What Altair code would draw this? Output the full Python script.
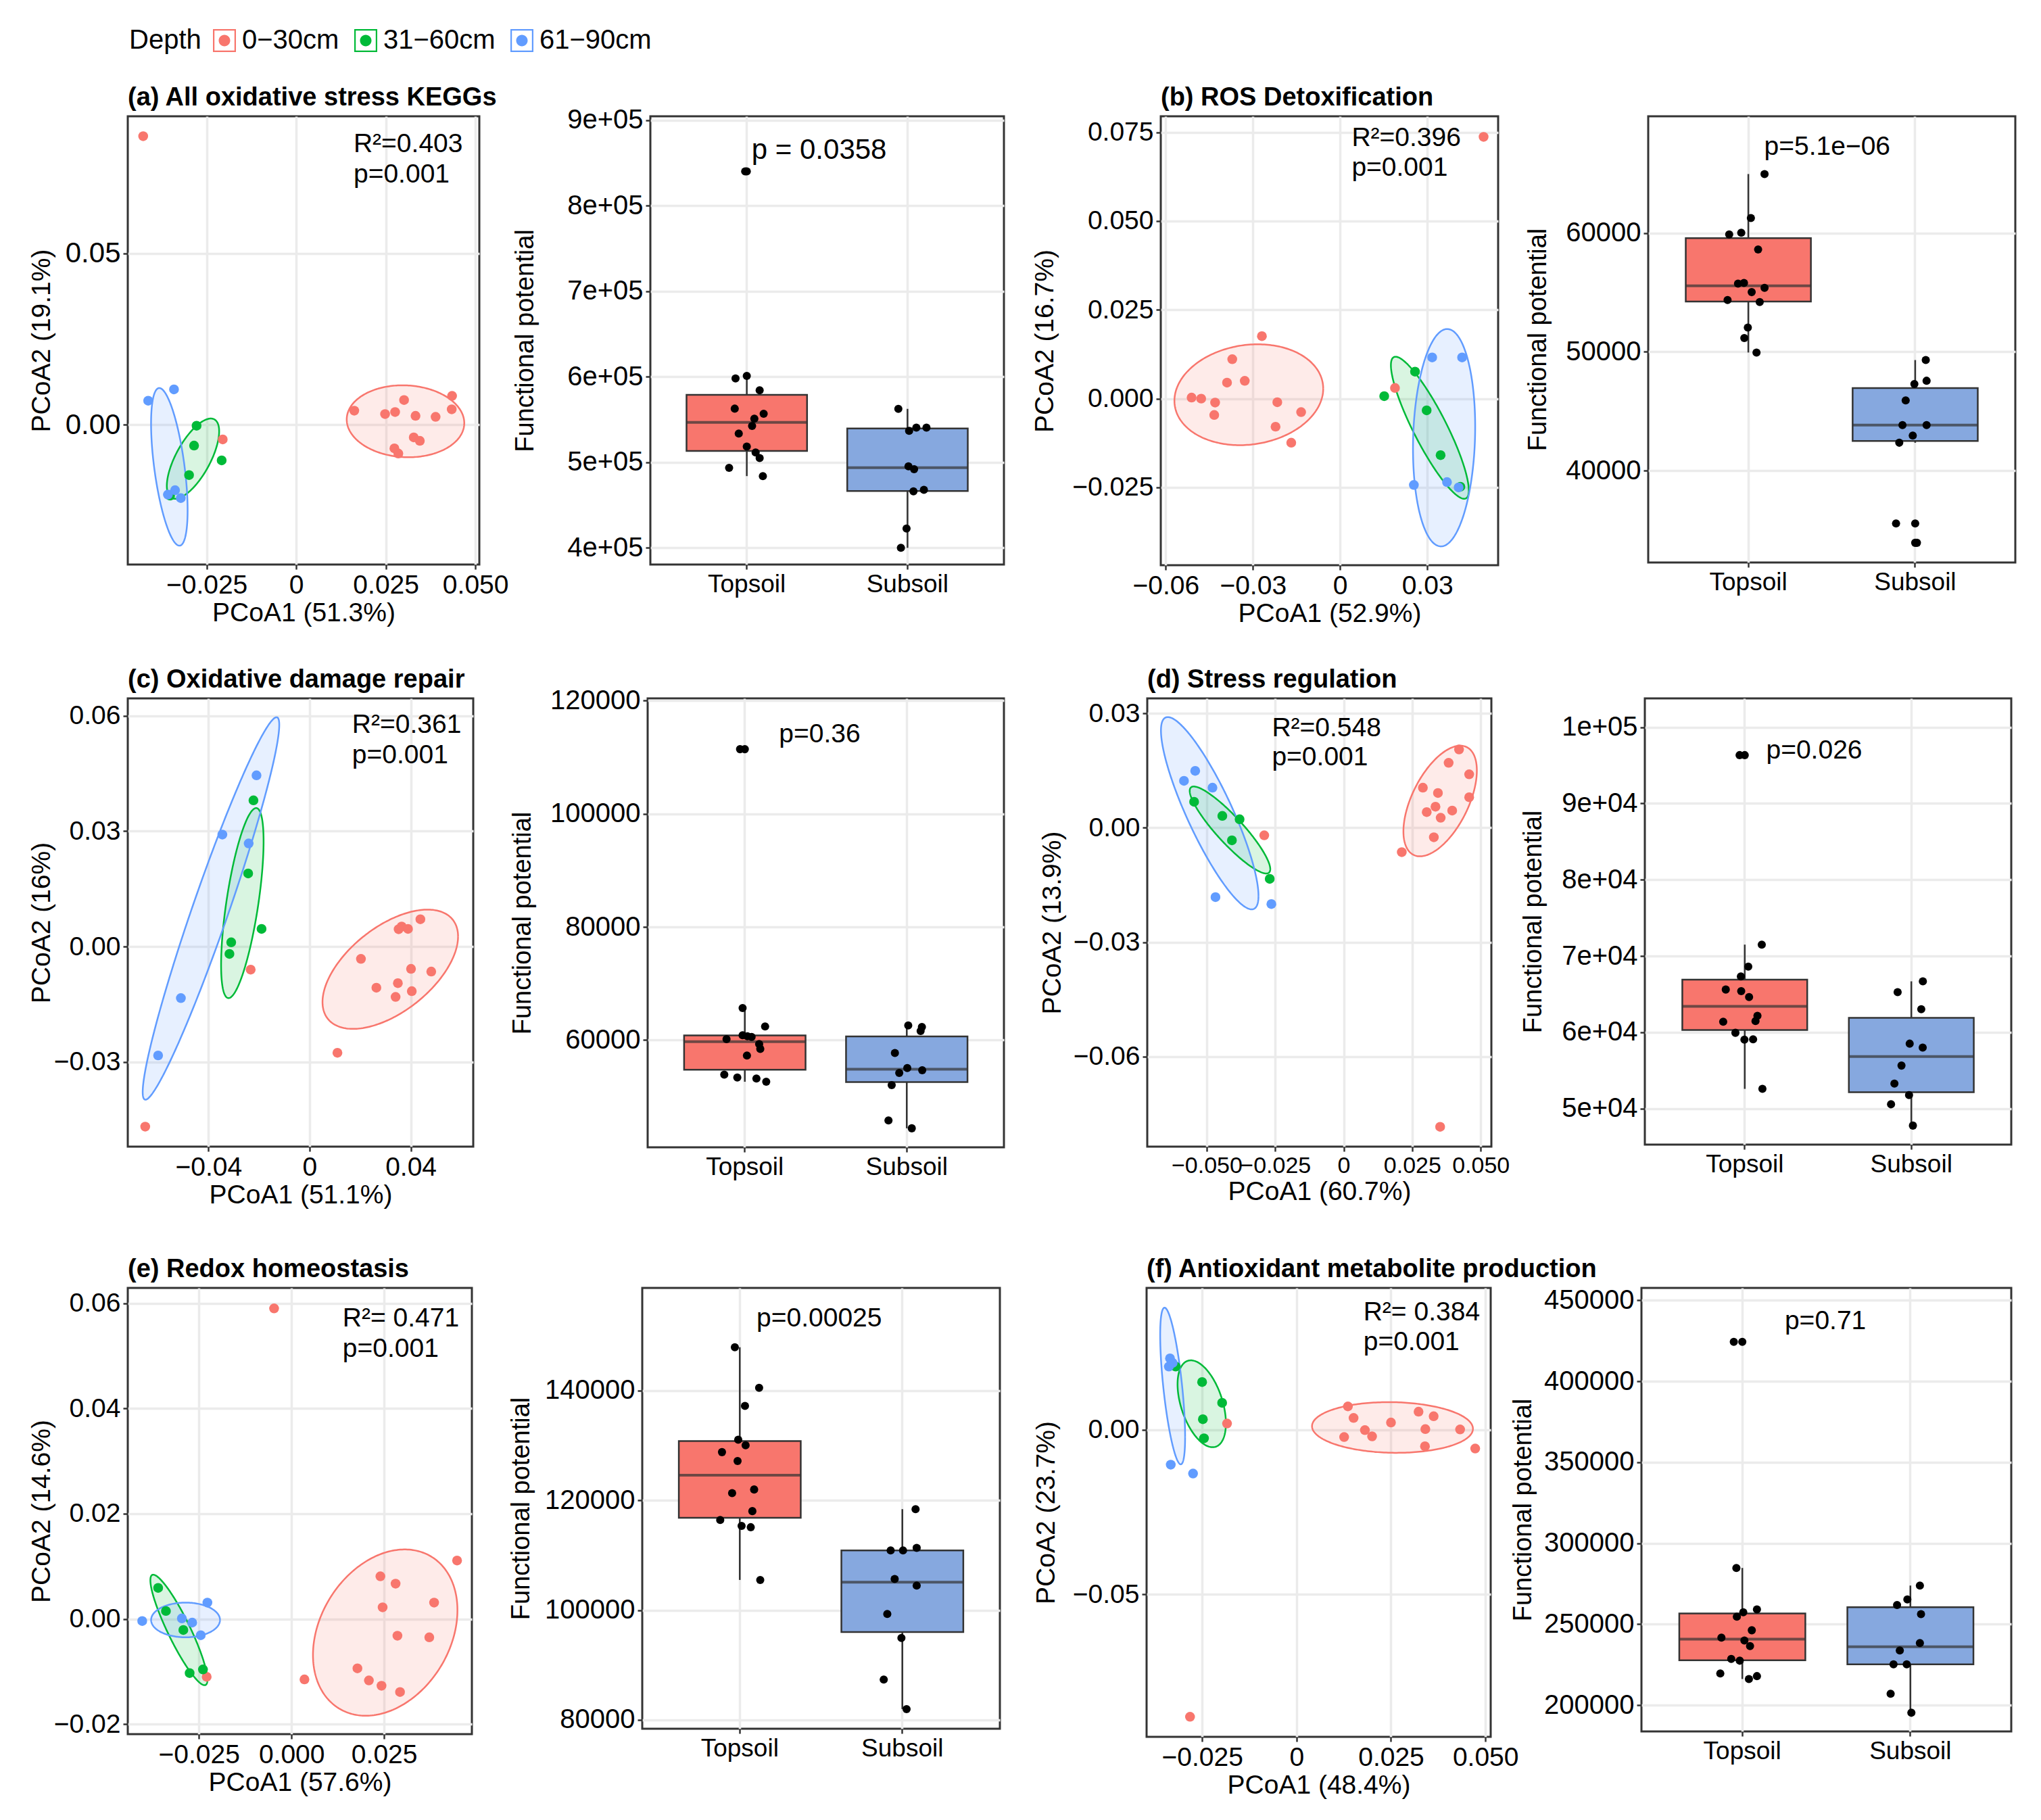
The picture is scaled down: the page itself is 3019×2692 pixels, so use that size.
import altair as alt
import numpy as np
import pandas as pd

DEPTHS = ["0−30cm", "31−60cm", "61−90cm"]
GROUPS = ["Topsoil", "Subsoil"]
DEPTH_COLORS = ["#F8766D", "#00BA38", "#619CFF"]
BOX_COLORS = ["#F8766D", "#86A8DF"]

# ---------------- (a) All oxidative stress KEGGs ----------------
a_title = "(a) All oxidative stress KEGGs"
a_axes = ["PCoA1 (51.3%)", "PCoA2 (19.1%)"]
a_stats = ["R²=0.403", "p=0.001"]
a_stat_pos = [0.0160, 0.0795, 0.0707]
a_red_x = [-0.0427, -0.0205, 0.0162, 0.0248, 0.0276, 0.0301, 0.0333, 0.0389, 0.0435, 0.0434, 0.0328, 0.0345, 0.0274, 0.0285]
a_red_y = [0.0842, -0.0043, 0.0041, 0.0031, 0.0037, 0.0072, 0.0026, 0.0023, 0.0084, 0.0045, -0.0037, -0.0047, -0.0069, -0.0084]
a_green_x = [-0.0278, -0.0285, -0.0208, -0.0299, -0.0352]
a_green_y = [-0.0003, -0.0061, -0.0104, -0.0147, -0.0207]
a_blue_x = [-0.0413, -0.0341, -0.0358, -0.0338, -0.0322]
a_blue_y = [0.0070, 0.0103, -0.0204, -0.0191, -0.0214]
a_ell_red = [0.0305, 0.0010, 0.0164, 0.0105, -0.05]
a_ell_green = [-0.0288, -0.0099, 0.0073, 0.0117, 0.68]
a_ell_blue = [-0.0354, -0.0123, 0.0051, 0.0230, -0.55]
a_xdom, a_ydom = [-0.0470, 0.0511], [-0.0408, 0.0900]
a_xticks, a_yticks = [-0.025, 0, 0.025, 0.05], [0, 0.05]
a_top = [840200, 598100, 601100, 584300, 562800, 556700, 551000, 542500, 533700, 518400, 511500, 505000, 493500, 483900]
a_top_jit = [-0.01, -0.07, 0.0, 0.08, -0.075, 0.105, 0.047, 0.033, -0.05, 0.0, 0.055, 0.08, -0.11, 0.1]
a_sub = [562500, 536800, 540600, 540600, 495400, 492000, 466000, 467800, 422600, 400000]
a_sub_jit = [-0.057, 0.01, 0.055, 0.118, 0.006, 0.041, 0.037, 0.102, -0.006, -0.041]
a_box_p, a_box_p_pos = "p = 0.0358", [0.45, 854800]
a_box_ydom = [380500, 904600]
a_box_yticks = [400000, 500000, 600000, 700000, 800000, 900000]

# ---------------- (b) ROS Detoxification ----------------
b_title = "(b) ROS Detoxification"
b_axes = ["PCoA1 (52.9%)", "PCoA2 (16.7%)"]
b_stats = ["R²=0.396", "p=0.001"]
b_stat_pos = [0.0040, 0.0712, 0.0628]
b_red_x = [0.0494, -0.0269, -0.0371, -0.0389, -0.0328, -0.0511, -0.0478, -0.0430, -0.0433, -0.0216, -0.0134, -0.0222, -0.0168, 0.0189]
b_red_y = [0.0737, 0.0176, 0.0111, 0.0045, 0.0050, 0.0003, 0.0000, -0.0011, -0.0046, -0.0010, -0.0038, -0.0079, -0.0124, 0.0030]
b_green_x = [0.0152, 0.0258, 0.0298, 0.0346, 0.0414]
b_green_y = [0.0007, 0.0076, -0.0033, -0.0159, -0.0248]
b_blue_x = [0.0317, 0.0420, 0.0254, 0.0368, 0.0408]
b_blue_y = [0.0116, 0.0116, -0.0243, -0.0235, -0.0250]
b_ell_red = [-0.0314, 0.0011, 0.0256, 0.0142, 0.12]
b_ell_green = [0.0309, -0.0082, 0.0134, 0.0200, -0.88]
b_ell_blue = [0.0358, -0.0110, 0.0107, 0.0306, 0.10]
b_xdom, b_ydom = [-0.0617, 0.0544], [-0.0469, 0.0795]
b_xticks, b_yticks = [-0.06, -0.03, 0, 0.03], [-0.025, 0, 0.025, 0.05, 0.075]
b_top = [64972, 61271, 59890, 60028, 58619, 55746, 55801, 55387, 55028, 54365, 54199, 52044, 51160, 49945]
b_top_jit = [0.12, 0.035, -0.10, -0.025, 0.08, -0.045, -0.008, 0.12, 0.04, -0.11, 0.09, 0.016, -0.006, 0.07]
b_sub = [49309, 47569, 47293, 45912, 43840, 43840, 42956, 42348, 35552, 33923]
b_sub_jit = [0.085, 0.09, 0.014, -0.04, -0.06, 0.09, 0.004, -0.08, -0.10, 0.03]
b_box_p, b_box_p_pos = "p=5.1e−06", [0.51, 66575]
b_box_ydom = [32265, 69834]
b_box_yticks = [40000, 50000, 60000]

# ---------------- (c) Oxidative damage repair ----------------
c_title = "(c) Oxidative damage repair"
c_axes = ["PCoA1 (51.1%)", "PCoA2 (16%)"]
c_stats = ["R²=0.361", "p=0.001"]
c_stat_pos = [0.0168, 0.0556, 0.0477]
c_red_x = [-0.0650, -0.0233, 0.0110, 0.0203, 0.0264, 0.0340, 0.0349, 0.0352, 0.0364, 0.0389, 0.0438, 0.0401, 0.0481, 0.0404]
c_red_y = [-0.0468, -0.0060, -0.0276, -0.0032, -0.0107, -0.0131, -0.0095, 0.0045, 0.0052, 0.0046, 0.0071, -0.0058, -0.0065, -0.0116]
c_green_x = [-0.0222, -0.0243, -0.0190, -0.0310, -0.0317]
c_green_y = [0.0380, 0.0190, 0.0046, 0.0011, -0.0019]
c_blue_x = [-0.0210, -0.0345, -0.0241, -0.0509, -0.0599]
c_blue_y = [0.0445, 0.0291, 0.0268, -0.0134, -0.0283]
c_ell_red = [0.0319, -0.0059, 0.0268, 0.0155, 0.55]
c_ell_green = [-0.0266, 0.0113, 0.0084, 0.0247, 0.65]
c_ell_blue = [-0.0390, 0.0099, 0.0270, 0.0497, 0.96]
c_xdom, c_ydom = [-0.0719, 0.0647], [-0.0520, 0.0645]
c_xticks, c_yticks = [-0.04, 0, 0.04], [-0.03, 0, 0.03, 0.06]
c_top = [111428, 65670, 62427, 60168, 60863, 60573, 59299, 58431, 57273, 53913, 53392, 53218, 52639, 60690]
c_top_jit = [-0.026, -0.01, 0.13, -0.11, -0.01, 0.046, 0.093, 0.10, 0.017, -0.124, -0.043, 0.076, 0.137, 0.02]
c_sub = [62601, 62311, 61616, 57736, 55072, 54203, 54666, 52060, 45805, 44415]
c_sub_jit = [0.013, 0.098, 0.09, -0.07, 0.007, -0.043, 0.10, -0.09, -0.11, 0.035]
c_box_p, c_box_p_pos = "p=0.36", [0.47, 112586]
c_box_ydom = [41054, 120405]
c_box_yticks = [60000, 80000, 100000, 120000]

# ---------------- (d) Stress regulation ----------------
d_title = "(d) Stress regulation"
d_axes = ["PCoA1 (60.7%)", "PCoA2 (13.9%)"]
d_stats = ["R²=0.548", "p=0.001"]
d_stat_pos = [-0.0262, 0.0240, 0.0163]
d_red_x = [0.0352, -0.0290, 0.0212, 0.0421, 0.0383, 0.0458, 0.0289, 0.0344, 0.0458, 0.0335, 0.0303, 0.0396, 0.0354, 0.0329]
d_red_y = [-0.0784, -0.0020, -0.0064, 0.0205, 0.0170, 0.0140, 0.0105, 0.0091, 0.0080, 0.0055, 0.0041, 0.0045, 0.0026, -0.0025]
d_green_x = [-0.0546, -0.0443, -0.0380, -0.0408, -0.0270]
d_green_y = [0.0068, 0.0031, 0.0022, -0.0033, -0.0134]
d_blue_x = [-0.0583, -0.0542, -0.0479, -0.0468, -0.0264]
d_blue_y = [0.0123, 0.0149, 0.0105, -0.0182, -0.0200]
d_ell_red = [0.0352, 0.0070, 0.0134, 0.0145, 0.55]
d_ell_green = [-0.0415, -0.0006, 0.0147, 0.0114, -0.90]
d_ell_blue = [-0.0489, 0.0038, 0.0178, 0.0252, -0.86]
d_xdom, d_ydom = [-0.0717, 0.0539], [-0.0836, 0.0339]
d_xticks, d_yticks = [-0.05, -0.025, 0, 0.025, 0.05], [-0.06, -0.03, 0, 0.03]
d_top = [96346, 71497, 68617, 67327, 65608, 65393, 64619, 62169, 61395, 61481, 59934, 59031, 59074, 52582]
d_top_jit = [-0.014, 0.124, 0.04, -0.006, -0.10, -0.004, 0.045, 0.097, -0.116, 0.085, -0.04, 0.016, 0.07, 0.128]
d_sub = [66682, 65264, 63029, 58515, 58000, 55635, 53270, 51765, 50561, 47767]
d_sub_jit = [0.09, -0.067, 0.08, 0.008, 0.089, -0.043, -0.087, 0.004, -0.108, 0.028]
d_box_p, d_box_p_pos = "p=0.026", [0.45, 95916]
d_box_ydom = [45274, 103783]
d_box_yticks = [50000, 60000, 70000, 80000, 90000, 100000]

# ---------------- (e) Redox homeostasis ----------------
e_title = "(e) Redox homeostasis"
e_axes = ["PCoA1 (57.6%)", "PCoA2 (14.6%)"]
e_stats = ["R²= 0.471", "p=0.001"]
e_stat_pos = [0.0138, 0.0556, 0.0498]
e_red_x = [-0.0047, -0.0229, 0.0035, 0.0447, 0.0240, 0.0281, 0.0385, 0.0246, 0.0286, 0.0372, 0.0178, 0.0209, 0.0243, 0.0293]
e_red_y = [0.0590, -0.0110, -0.0115, 0.0111, 0.0081, 0.0067, 0.0031, 0.0022, -0.0032, -0.0035, -0.0094, -0.0117, -0.0127, -0.0139]
e_green_x = [-0.0360, -0.0339, -0.0292, -0.0275, -0.0239]
e_green_y = [0.0059, 0.0015, -0.0021, -0.0103, -0.0096]
e_blue_x = [-0.0403, -0.0296, -0.0268, -0.0245, -0.0227]
e_blue_y = [-0.0004, 0.0001, -0.0007, -0.0031, 0.0031]
e_ell_red = [0.0253, -0.0026, 0.0195, 0.0158, 0.27]
e_ell_green = [-0.0304, -0.0021, 0.0077, 0.0105, -0.90]
e_ell_blue = [-0.0286, -0.0002, 0.0093, 0.0033, 0.0]
e_xdom, e_ydom = [-0.0442, 0.0487], [-0.0219, 0.0629]
e_xticks, e_yticks = [-0.025, 0, 0.025], [-0.02, 0, 0.02, 0.04, 0.06]
e_top = [147881, 140478, 137194, 131045, 130030, 128776, 127164, 121970, 121313, 118030, 116418, 115343, 115104, 105493]
e_top_jit = [-0.025, 0.126, 0.038, -0.004, 0.042, -0.105, -0.008, 0.095, -0.042, 0.084, -0.116, 0.017, 0.074, 0.133]
e_sub = [118389, 110866, 110866, 111343, 105672, 104478, 99284, 94925, 87343, 81970]
e_sub_jit = [0.088, -0.067, 0.01, 0.095, -0.042, 0.095, -0.088, 0.0, -0.11, 0.032]
e_box_p, e_box_p_pos = "p=0.00025", [0.50, 151642]
e_box_ydom = [78390, 158686]
e_box_yticks = [80000, 100000, 120000, 140000]

# ---------------- (f) Antioxidant metabolite production ----------------
f_title = "(f) Antioxidant metabolite production"
f_axes = ["PCoA1 (48.4%)", "PCoA2 (23.7%)"]
f_stats = ["R²= 0.384", "p=0.001"]
f_stat_pos = [0.0177, 0.0333, 0.0242]
f_red_x = [-0.0282, 0.0473, -0.0184, 0.0136, 0.0151, 0.0126, 0.0181, 0.0200, 0.0250, 0.0323, 0.0363, 0.0341, 0.0433, 0.0340]
f_red_y = [-0.0872, -0.0057, 0.0019, 0.0071, 0.0036, -0.0022, -0.0001, -0.0020, 0.0022, 0.0055, 0.0041, 0.0002, 0.0001, -0.0050]
f_green_x = [-0.0320, -0.0250, -0.0197, -0.0248, -0.0245]
f_green_y = [0.0192, 0.0145, 0.0082, 0.0032, -0.0026]
f_blue_x = [-0.0335, -0.0328, -0.0338, -0.0333, -0.0274]
f_blue_y = [0.0217, 0.0203, 0.0192, -0.0106, -0.0133]
f_ell_red = [0.0254, 0.0007, 0.0213, 0.0077, -0.05]
f_ell_green = [-0.0251, 0.0079, 0.0064, 0.0132, -0.45]
f_ell_blue = [-0.0328, 0.0133, 0.0033, 0.0238, -0.65]
f_xdom, f_ydom = [-0.0397, 0.0514], [-0.0933, 0.0431]
f_xticks, f_yticks = [-0.025, 0, 0.025, 0.05], [-0.05, 0]
f_top = [424417, 284728, 259145, 257334, 254617, 246240, 241712, 239901, 236505, 228581, 227449, 219525, 217940, 216129]
f_top_jit = [-0.03, -0.014, 0.114, 0.029, -0.011, 0.082, -0.107, 0.036, 0.071, -0.046, 0.007, -0.114, 0.114, 0.064]
f_sub = [273861, 265258, 261862, 256202, 238315, 233787, 225183, 225183, 207071, 195298]
f_sub_jit = [0.082, 0.004, -0.06, 0.089, 0.082, -0.043, -0.082, 0.0, -0.10, 0.029]
f_box_p, f_box_p_pos = "p=0.71", [0.54, 432341]
f_box_ydom = [183754, 457698]
f_box_yticks = [200000, 250000, 300000, 350000, 400000, 450000]

# ======================= building =======================
FONT = "Liberation Sans"
DEPTH_SCALE = alt.Scale(domain=DEPTHS, range=DEPTH_COLORS)

# legend key: square outline (outer square minus inner square) plus a central dot
KEY_PATH = ("M-1,-1H1V1H-1Z"
            "M-0.87,-0.87V0.87H0.87V-0.87Z"
            "M0.5,0A0.5,0.5 0 1,1 -0.5,0A0.5,0.5 0 1,1 0.5,0Z")

LEGEND = alt.Legend(
    values=DEPTHS, title="Depth", orient="none", legendX=2, legendY=18,
    direction="horizontal", titleOrient="left", titleFontSize=40, titleFontWeight="normal",
    titleColor="black", titlePadding=14, labelFontSize=40, labelColor="black",
    labelOffset=6, labelLimit=400, columnPadding=19, symbolType=KEY_PATH,
    symbolSize=1156, symbolStrokeWidth=0, symbolOpacity=1,
)


def lab_expr(fmt, zero):
    return f"abs(datum.value) < 1e-12 ? '{zero}' : format(datum.value, '{fmt}')"


SCI_EXPR = "replace(format(datum.value, '.0e'), 'e+', 'e+0')"
INT_EXPR = "format(datum.value, 'd')"


def ellipse_frames(ells):
    area_rows, line_rows = [], []
    for depth, (cx, cy, sx, sy, rho) in zip(DEPTHS, ells):
        d = float(np.arccos(np.clip(rho, -1, 1)))
        for t in np.linspace(0, np.pi, 140):
            area_rows.append({"depth": depth, "x": cx + sx * np.cos(t),
                              "y": cy + sy * np.cos(t - d), "y2": cy + sy * np.cos(t + d)})
        for i, t in enumerate(np.linspace(0, 2 * np.pi, 241)):
            line_rows.append({"depth": depth, "t": i, "x": cx + sx * np.cos(t),
                              "y": cy + sy * np.cos(t - d)})
    return pd.DataFrame(area_rows), pd.DataFrame(line_rows)


def scatter_panel(title, axes, stats, stat_pos, xs, ys, ells, xdom, ydom, xticks, yticks,
                  xfmt, xzero, yfmt, yzero, ygap, w, h, ylab=39, xlab=39):
    pts = pd.DataFrame({
        "depth": sum([[dd] * len(x) for dd, x in zip(DEPTHS, xs)], []),
        "x": sum(xs, []), "y": sum(ys, []),
    })
    area_df, line_df = ellipse_frames(ells)
    ann = pd.DataFrame({"x": [stat_pos[0]] * 2, "y": stat_pos[1:], "label": stats})
    X = alt.X("x:Q", scale=alt.Scale(domain=xdom, nice=False, zero=False),
              axis=alt.Axis(title=axes[0], values=xticks, labelExpr=lab_expr(xfmt, xzero),
                            titlePadding=2, labelFontSize=xlab, labelFlush=False, labelOverlap=False))
    Y = alt.Y("y:Q", scale=alt.Scale(domain=ydom, nice=False, zero=False),
              axis=alt.Axis(title=axes[1], values=yticks, labelExpr=lab_expr(yfmt, yzero),
                            minExtent=ygap, maxExtent=ygap, titlePadding=0, labelFontSize=ylab,
                            labelFlush=False, labelOverlap=False))
    layers = []
    for dd, col in zip(DEPTHS, DEPTH_COLORS):
        layers.append(alt.Chart(area_df[area_df["depth"] == dd]).mark_area(
            opacity=0.15, color=col, clip=True).encode(x=X, y=Y, y2=alt.Y2("y2:Q")))
    for dd, col in zip(DEPTHS, DEPTH_COLORS):
        layers.append(alt.Chart(line_df[line_df["depth"] == dd]).mark_line(
            strokeWidth=2.5, color=col, clip=True).encode(x=X, y=Y, order=alt.Order("t:Q")))
    dots = alt.Chart(pts).mark_circle(size=210, opacity=1).encode(
        x=X, y=Y, color=alt.Color("depth:N", scale=DEPTH_SCALE, legend=LEGEND))
    txt = alt.Chart(ann).mark_text(align="left", baseline="alphabetic", fontSize=39,
                                   color="black").encode(x=X, y=Y, text="label:N")
    return alt.layer(*layers, dots, txt).properties(
        width=w, height=h,
        title=alt.TitleParams(title, anchor="start", frame="group", fontSize=38,
                              fontWeight="bold", offset=8, color="black"))


def box_panel(top, top_jit, sub, sub_jit, ptxt, ppos, ydom, yticks, yexpr, ygap, w, h, pfs=39):
    df = pd.DataFrame({
        "grp": ["Topsoil"] * len(top) + ["Subsoil"] * len(sub),
        "val": top + sub, "jit": top_jit + sub_jit,
    })
    tdf = pd.DataFrame({"grp": ["Topsoil"], "jit": [ppos[0]], "val": [ppos[1]], "label": [ptxt]})
    step = w / 2.2
    X = alt.X("grp:N", sort=GROUPS,
              scale=alt.Scale(type="band", domain=GROUPS, paddingInner=0, paddingOuter=0.1),
              axis=alt.Axis(title=None, labelAngle=0, bandPosition=0.5, labelFontSize=37, grid=True))
    Y = alt.Y("val:Q", scale=alt.Scale(domain=ydom, nice=False, zero=False),
              axis=alt.Axis(title="Functional potential", values=yticks, labelExpr=yexpr,
                            minExtent=ygap, maxExtent=ygap, titlePadding=0, labelFontSize=40,
                            titleFontSize=38, labelFlush=False, labelOverlap=False))
    XO = alt.XOffset("jit:Q", scale=alt.Scale(domain=[-0.5, 0.5]))
    layers = []
    for g, col in zip(GROUPS, BOX_COLORS):
        layers.append(alt.Chart(df[df["grp"] == g]).mark_boxplot(
            extent=1.5, size=0.75 * step, outliers=False,
            box={"fill": col, "stroke": "#333333", "strokeWidth": 2.5},
            median={"color": "#333333", "thickness": 4},
            rule={"color": "#333333", "strokeWidth": 2.5},
        ).encode(x=X, y=Y))
    outl = alt.Chart(df).transform_joinaggregate(
        q1="q1(val)", q3="q3(val)", groupby=["grp"]
    ).transform_filter(
        "datum.val < datum.q1 - 1.5 * (datum.q3 - datum.q1) || "
        "datum.val > datum.q3 + 1.5 * (datum.q3 - datum.q1)"
    ).mark_circle(size=145, opacity=1, color="black").encode(x=X, y=Y)
    pts = alt.Chart(df).mark_circle(size=145, opacity=1, color="black").encode(x=X, xOffset=XO, y=Y)
    txt = alt.Chart(tdf).mark_text(fontSize=pfs, align="center", baseline="alphabetic",
                                   color="black").encode(x=X, xOffset=XO, y=Y, text="label:N")
    return alt.layer(*layers, outl, pts, txt).properties(width=w, height=h)


def spacer(w, h=10):
    return alt.Chart(pd.DataFrame({"v": [0]})).mark_point(opacity=0).encode(
        x=alt.X("v:Q", axis=None), y=alt.Y("v:Q", axis=None)
    ).properties(width=w, height=h, view=alt.ViewBackground(stroke="transparent"))


sa = scatter_panel(a_title, a_axes, a_stats, a_stat_pos,
                   [a_red_x, a_green_x, a_blue_x], [a_red_y, a_green_y, a_blue_y],
                   [a_ell_red, a_ell_green, a_ell_blue], a_xdom, a_ydom, a_xticks, a_yticks,
                   ".3f", "0", ".2f", "0.00", 108, 520, 663, ylab=42)
ba = box_panel(a_top, a_top_jit, a_sub, a_sub_jit, a_box_p, a_box_p_pos, a_box_ydom,
               a_box_yticks, SCI_EXPR, 166, 523, 663, pfs=42)
sb = scatter_panel(b_title, b_axes, b_stats, b_stat_pos,
                   [b_red_x, b_green_x, b_blue_x], [b_red_y, b_green_y, b_blue_y],
                   [b_ell_red, b_ell_green, b_ell_blue], b_xdom, b_ydom, b_xticks, b_yticks,
                   ".2f", "0", ".3f", "0.000", 152, 499, 664)
bb = box_panel(b_top, b_top_jit, b_sub, b_sub_jit, b_box_p, b_box_p_pos, b_box_ydom,
               b_box_yticks, INT_EXPR, 144, 543, 660)

sc = scatter_panel(c_title, c_axes, c_stats, c_stat_pos,
                   [c_red_x, c_green_x, c_blue_x], [c_red_y, c_green_y, c_blue_y],
                   [c_ell_red, c_ell_green, c_ell_blue], c_xdom, c_ydom, c_xticks, c_yticks,
                   ".2f", "0", ".2f", "0.00", 108, 511, 663)
bc = box_panel(c_top, c_top_jit, c_sub, c_sub_jit, c_box_p, c_box_p_pos, c_box_ydom,
               c_box_yticks, INT_EXPR, 166, 527, 664)
sd = scatter_panel(d_title, d_axes, d_stats, d_stat_pos,
                   [d_red_x, d_green_x, d_blue_x], [d_red_y, d_green_y, d_blue_y],
                   [d_ell_red, d_ell_green, d_ell_blue], d_xdom, d_ydom, d_xticks, d_yticks,
                   ".3f", "0", ".2f", "0.00", 121, 509, 663, xlab=34)
bd = box_panel(d_top, d_top_jit, d_sub, d_sub_jit, d_box_p, d_box_p_pos, d_box_ydom,
               d_box_yticks, SCI_EXPR, 146, 542, 660)

se = scatter_panel(e_title, e_axes, e_stats, e_stat_pos,
                   [e_red_x, e_green_x, e_blue_x], [e_red_y, e_green_y, e_blue_y],
                   [e_ell_red, e_ell_green, e_ell_blue], e_xdom, e_ydom, e_xticks, e_yticks,
                   ".3f", "0.000", ".2f", "0.00", 108, 509, 660)
be = box_panel(e_top, e_top_jit, e_sub, e_sub_jit, e_box_p, e_box_p_pos, e_box_ydom,
               e_box_yticks, INT_EXPR, 160, 529, 652)
sf = scatter_panel(f_title, f_axes, f_stats, f_stat_pos,
                   [f_red_x, f_green_x, f_blue_x], [f_red_y, f_green_y, f_blue_y],
                   [f_ell_red, f_ell_green, f_ell_blue], f_xdom, f_ydom, f_xticks, f_yticks,
                   ".3f", "0", ".2f", "0.00", 129, 509, 664)
bf = box_panel(f_top, f_top_jit, f_sub, f_sub_jit, f_box_p, f_box_p_pos, f_box_ydom,
               f_box_yticks, INT_EXPR, 156, 547, 656)

row1 = alt.hconcat(sa, spacer(253), ba, spacer(232), sb, spacer(222), bb, spacing=0, bounds="flush")
row2 = alt.hconcat(sc, spacer(258), bc, spacer(212), sd, spacer(227), bd, spacing=0, bounds="flush")
row3 = alt.hconcat(se, spacer(252), be, spacer(217), sf, spacer(223), bf, spacing=0, bounds="flush")

top_block = alt.vconcat(spacer(200, 10), row1, spacing=90)
rows12 = alt.vconcat(top_block, row2, spacing=56)

chart = alt.vconcat(rows12, row3, spacing=68).properties(
    padding={"left": 40, "top": 20, "right": 20, "bottom": 20}
).configure(
    font=FONT, background="white"
).configure_view(
    stroke="#333333", strokeWidth=3
).configure_axis(
    labelFont=FONT, titleFont=FONT, labelFontSize=39, titleFontSize=39,
    labelColor="black", titleColor="black", titleFontWeight="normal",
    tickColor="#333333", tickWidth=2.5, tickSize=7, labelPadding=4,
    domain=False, gridColor="#EBEBEB", gridWidth=3.5
).configure_legend(
    labelFont=FONT, titleFont=FONT
)

chart.save("out.html", embed_options={"renderer": "svg", "actions": False})
